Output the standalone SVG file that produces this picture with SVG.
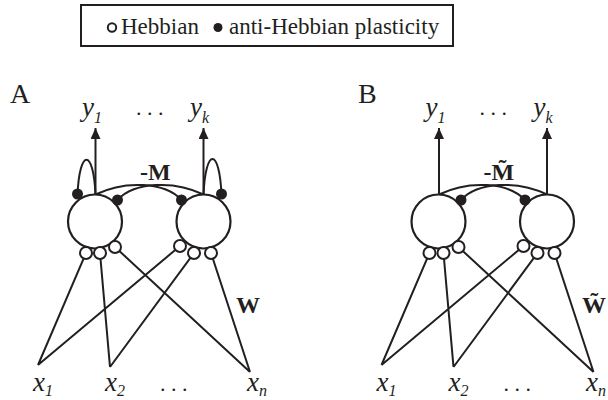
<svg xmlns="http://www.w3.org/2000/svg" width="608" height="400" viewBox="0 0 608 400">
<style>
text{font-family:"Liberation Serif","Times New Roman",serif;fill:#231f20}
.it{font-style:italic}
.bd{font-weight:bold}
.ln{stroke:#231f20;stroke-width:2;fill:none}
.neu{stroke:#231f20;stroke-width:2.2;fill:#fff}
.syn{stroke:#231f20;stroke-width:2;fill:#fff}
.dot{fill:#231f20}
</style>
<defs>
<marker id="arr" markerUnits="userSpaceOnUse" viewBox="0 0 11 10" refX="11" refY="5" markerWidth="11" markerHeight="10" orient="auto">
<path d="M0,0 L11,5 L0,10 Z" fill="#231f20"/>
</marker>
</defs>
<g id="legend">
<rect x="81" y="5" width="372" height="41" fill="#fff" stroke="#231f20" stroke-width="2"/>
<circle cx="112" cy="27.5" r="4.2" fill="none" stroke="#231f20" stroke-width="2"/>
<text x="121" y="34" font-size="23">Hebbian</text>
<circle cx="218" cy="27.5" r="4.5" class="dot"/>
<text x="229" y="34" font-size="23">anti-Hebbian plasticity</text>
</g>
<g id="connectors">
<path class="ln" d="M86,253 L38,365 M180,246 L38,365 M100,253 L110,367 M194,253 L110,367 M115,247 L250,372 M211,253 L250,372"/>
<path class="ln" d="M95.5,194.5 C125,180 165,182 181.5,200"/>
<path class="ln" d="M203.5,194.5 C174,180 134,182 117.5,200"/>
<path class="ln" d="M77.5,195 C79.5,148 93.5,148 95.5,195"/>
<path class="ln" d="M203.5,195 C205.5,147 219.5,147 221.5,195"/>
<line class="ln" x1="95.5" y1="195" x2="95.5" y2="128" marker-end="url(#arr)"/>
<line class="ln" x1="203.5" y1="195" x2="203.5" y2="128" marker-end="url(#arr)"/>
<path class="ln" d="M429.5,253 L381.5,365 M523.5,246 L381.5,365 M443.5,253 L453.5,367 M537.5,253 L453.5,367 M458.5,247 L593.5,372 M554.5,253 L593.5,372"/>
<path class="ln" d="M439,194.5 C468.5,180 508.5,182 525,200"/>
<path class="ln" d="M547,194.5 C517.5,180 477.5,182 461,200"/>
<line class="ln" x1="439" y1="195" x2="439" y2="128" marker-end="url(#arr)"/>
<line class="ln" x1="547" y1="195" x2="547" y2="128" marker-end="url(#arr)"/>
</g>
<g id="panelA-label"><text x="10" y="103" font-size="28">A</text></g>
<g id="A-neuron1">
<circle class="neu" cx="95" cy="221.5" r="27"/>
<circle class="syn" cx="86" cy="253" r="6"/>
<circle class="syn" cx="100" cy="253" r="6"/>
<circle class="syn" cx="115" cy="247" r="6"/>
<circle class="dot" cx="77.5" cy="194" r="5.5"/>
<circle class="dot" cx="117.5" cy="200" r="5.5"/>
</g>
<g id="A-neuron2">
<circle class="neu" cx="203.5" cy="221.5" r="27"/>
<circle class="syn" cx="180" cy="246" r="6"/>
<circle class="syn" cx="194" cy="253" r="6"/>
<circle class="syn" cx="211" cy="253" r="6"/>
<circle class="dot" cx="181.5" cy="200" r="5.5"/>
<circle class="dot" cx="221.5" cy="194" r="5.5"/>
</g>
<g id="A-labels">
<text x="82" y="116" font-size="27" class="it">y<tspan font-size="16" dy="7">1</tspan></text>
<text x="136" y="115" font-size="22">. . .</text>
<text x="190" y="116" font-size="27" class="it">y<tspan font-size="16" dy="7">k</tspan></text>
<text x="140" y="180" font-size="24" class="bd">-M</text>
<text x="236" y="313" font-size="24" class="bd">W</text>
<text x="33" y="391" font-size="27" class="it">x<tspan font-size="16" dy="5">1</tspan></text>
<text x="105" y="391" font-size="27" class="it">x<tspan font-size="16" dy="5">2</tspan></text>
<text x="160" y="391" font-size="22">. . .</text>
<text x="247" y="391" font-size="27" class="it">x<tspan font-size="16" dy="5">n</tspan></text>
</g>
<g id="panelB-label"><text x="358" y="103" font-size="28">B</text></g>
<g id="B-neuron1">
<circle class="neu" cx="438.5" cy="221.5" r="27"/>
<circle class="syn" cx="429.5" cy="253" r="6"/>
<circle class="syn" cx="443.5" cy="253" r="6"/>
<circle class="syn" cx="458.5" cy="247" r="6"/>
<circle class="dot" cx="461" cy="200" r="5.5"/>
</g>
<g id="B-neuron2">
<circle class="neu" cx="547" cy="221.5" r="27"/>
<circle class="syn" cx="523.5" cy="246" r="6"/>
<circle class="syn" cx="537.5" cy="253" r="6"/>
<circle class="syn" cx="554.5" cy="253" r="6"/>
<circle class="dot" cx="525" cy="200" r="5.5"/>
</g>
<g id="B-labels">
<text x="425.5" y="116" font-size="27" class="it">y<tspan font-size="16" dy="7">1</tspan></text>
<text x="479.5" y="115" font-size="22">. . .</text>
<text x="533.5" y="116" font-size="27" class="it">y<tspan font-size="16" dy="7">k</tspan></text>
<text x="483.5" y="180" font-size="24" class="bd">-M&#x303;</text>
<text x="582" y="313" font-size="24" class="bd">W&#x303;</text>
<text x="376.5" y="391" font-size="27" class="it">x<tspan font-size="16" dy="5">1</tspan></text>
<text x="448.5" y="391" font-size="27" class="it">x<tspan font-size="16" dy="5">2</tspan></text>
<text x="503.5" y="391" font-size="22">. . .</text>
<text x="586" y="391" font-size="27" class="it">x<tspan font-size="16" dy="5">n</tspan></text>
</g>
</svg>
